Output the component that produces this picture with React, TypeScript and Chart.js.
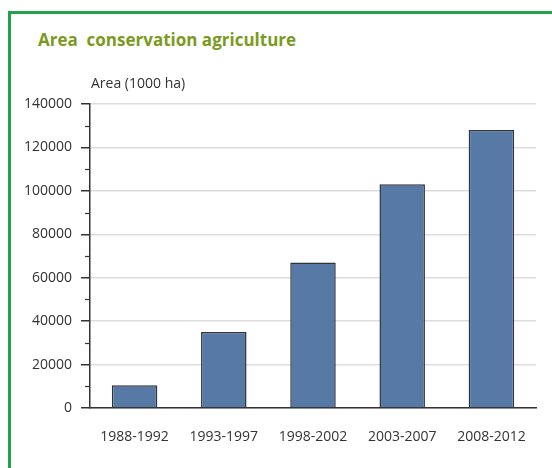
import React, { useEffect, useRef } from "react";
import { Chart, registerables } from "chart.js";

Chart.register(...registerables);

const categories = ["1988-1992", "1993-1997", "1998-2002", "2003-2007", "2008-2012"];
const areaValues = [10500, 35000, 67000, 103000, 128000];
const yMax = 140000;
const yStep = 20000;
const titleText = "Area  conservation agriculture";
const unitText = "Area (1000 ha)";

const FONT = "'Open Sans', sans-serif";

const extrasPlugin = {
  id: "extras",
  afterDraw(chart: any) {
    const ctx = chart.ctx;
    const y = chart.scales.y;
    const area = chart.chartArea;
    ctx.save();
    // minor ticks at midpoints
    ctx.strokeStyle = "#333";
    ctx.lineWidth = 1.2;
    const ticks = y.ticks;
    for (let i = 0; i < ticks.length - 1; i++) {
      const mid = (ticks[i].value + ticks[i + 1].value) / 2;
      const py = Math.round(y.getPixelForValue(mid)) + 0.5;
      ctx.beginPath();
      ctx.moveTo(area.left - 5, py);
      ctx.lineTo(area.left, py);
      ctx.stroke();
    }
    // unit label
    ctx.fillStyle = "#333";
    ctx.font = `14px ${FONT}`;
    ctx.textAlign = "left";
    ctx.textBaseline = "middle";
    ctx.fillText(unitText, area.left + 1, area.top - 20);
    ctx.restore();
  },
};

export default function App() {
  const ref = useRef<HTMLCanvasElement | null>(null);

  useEffect(() => {
    if (!ref.current) return;
    const chart = new Chart(ref.current, {
      type: "bar",
      data: {
        labels: categories,
        datasets: [
          {
            data: areaValues,
            backgroundColor: "#5679a6",
            borderColor: "#2f333a",
            borderWidth: 1.5,
            categoryPercentage: 1,
            barPercentage: 0.51,
          },
        ],
      },
      options: {
        animation: false,
        responsive: false,
        devicePixelRatio: 1,
        layout: { padding: { top: 104, right: 16, left: 0, bottom: 0 } },
        plugins: {
          legend: { display: false },
          tooltip: { enabled: false },
          title: { display: false },
        },
        scales: {
          x: {
            grid: { display: false },
            border: { display: true, color: "#333", width: 1.5 },
            ticks: {
              color: "#333",
              font: { family: FONT, size: 14 },
              padding: 13,
              maxRotation: 0,
            },
            afterFit(scale: any) {
              scale.height = 60;
            },
          },
          y: {
            min: 0,
            max: yMax,
            grid: {
              color: "#dddddd",
              lineWidth: 1.5,
              tickLength: 9,
              tickColor: "#333",
              drawTicks: true,
            },
            border: { display: true, color: "#333", width: 1.5 },
            ticks: {
              stepSize: yStep,
              color: "#333",
              font: { family: FONT, size: 14 },
              padding: 9,
              callback: (v: any) => String(v),
            },
            afterFit(scale: any) {
              scale.width = 90;
            },
          },
        },
      },
      plugins: [extrasPlugin],
    });
    return () => chart.destroy();
  }, []);

  return (
    <div
      style={{
        position: "fixed",
        left: 0,
        top: 0,
        width: 552,
        height: 468,
        overflow: "hidden",
        background: "#fff",
      }}
    >
      <div
        style={{
          position: "absolute",
          left: 8,
          top: 11,
          width: 600,
          height: 600,
          border: "3px solid #23a04a",
          boxSizing: "border-box",
        }}
      />
      <div
        style={{
          position: "absolute",
          left: 38,
          top: 30,
          fontFamily: FONT,
          fontWeight: 700,
          fontSize: 17,
          lineHeight: "20px",
          color: "#7b9a22",
          whiteSpace: "pre",
        }}
      >
        {titleText}
      </div>
      <canvas
        ref={ref}
        width={552}
        height={468}
        style={{ position: "absolute", left: 0, top: 0, width: 552, height: 468 }}
      />
    </div>
  );
}
